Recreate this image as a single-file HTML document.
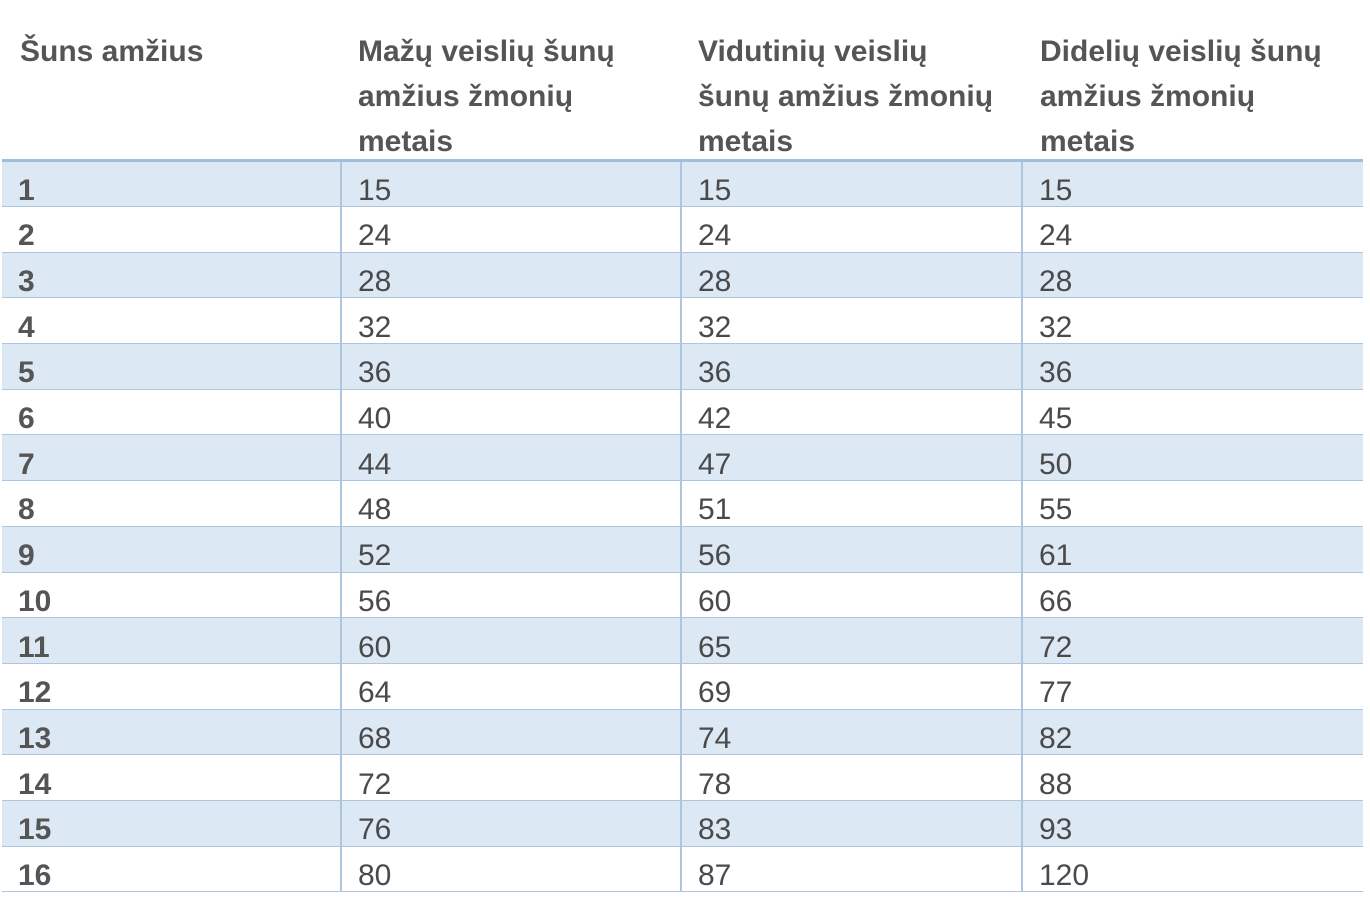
<!DOCTYPE html>
<html><head><meta charset="utf-8"><style>
html,body{margin:0;padding:0;background:#fff;width:1370px;height:906px;overflow:hidden}
body{font-family:"Liberation Sans",Arial,sans-serif;color:#4a4a4a}
.h{position:absolute;top:29px;font-size:30px;font-weight:bold;line-height:45px;color:#555;white-space:nowrap}
table{position:absolute;left:2px;top:159px;width:1361px;border-collapse:collapse;table-layout:fixed}
td{height:45.7px;padding:0 0 0 16px;font-size:30px;line-height:30px;vertical-align:middle;border-bottom:1.5px solid #aec6dd;border-left:2px solid #aec6dd;padding-top:14px;box-sizing:border-box}
td:first-child{border-left:none;font-weight:bold;color:#555}
tr:nth-child(odd) td{background:#dde8f5}
tr:first-child td{border-top:3px solid #a3bdd6}
</style></head><body>
<div class="h" style="left:20px">Šuns amžius</div>
<div class="h" style="left:358px">Mažų veislių šunų<br>amžius žmonių<br>metais</div>
<div class="h" style="left:698px">Vidutinių veislių<br>šunų amžius žmonių<br>metais</div>
<div class="h" style="left:1040px">Didelių veislių šunų<br>amžius žmonių<br>metais</div>
<table>
<colgroup><col style="width:339px"><col style="width:340px"><col style="width:341px"><col style="width:341px"></colgroup>
<tr><td>1</td><td>15</td><td>15</td><td>15</td></tr>
<tr><td>2</td><td>24</td><td>24</td><td>24</td></tr>
<tr><td>3</td><td>28</td><td>28</td><td>28</td></tr>
<tr><td>4</td><td>32</td><td>32</td><td>32</td></tr>
<tr><td>5</td><td>36</td><td>36</td><td>36</td></tr>
<tr><td>6</td><td>40</td><td>42</td><td>45</td></tr>
<tr><td>7</td><td>44</td><td>47</td><td>50</td></tr>
<tr><td>8</td><td>48</td><td>51</td><td>55</td></tr>
<tr><td>9</td><td>52</td><td>56</td><td>61</td></tr>
<tr><td>10</td><td>56</td><td>60</td><td>66</td></tr>
<tr><td>11</td><td>60</td><td>65</td><td>72</td></tr>
<tr><td>12</td><td>64</td><td>69</td><td>77</td></tr>
<tr><td>13</td><td>68</td><td>74</td><td>82</td></tr>
<tr><td>14</td><td>72</td><td>78</td><td>88</td></tr>
<tr><td>15</td><td>76</td><td>83</td><td>93</td></tr>
<tr><td>16</td><td>80</td><td>87</td><td>120</td></tr>
</table>
</body></html>
